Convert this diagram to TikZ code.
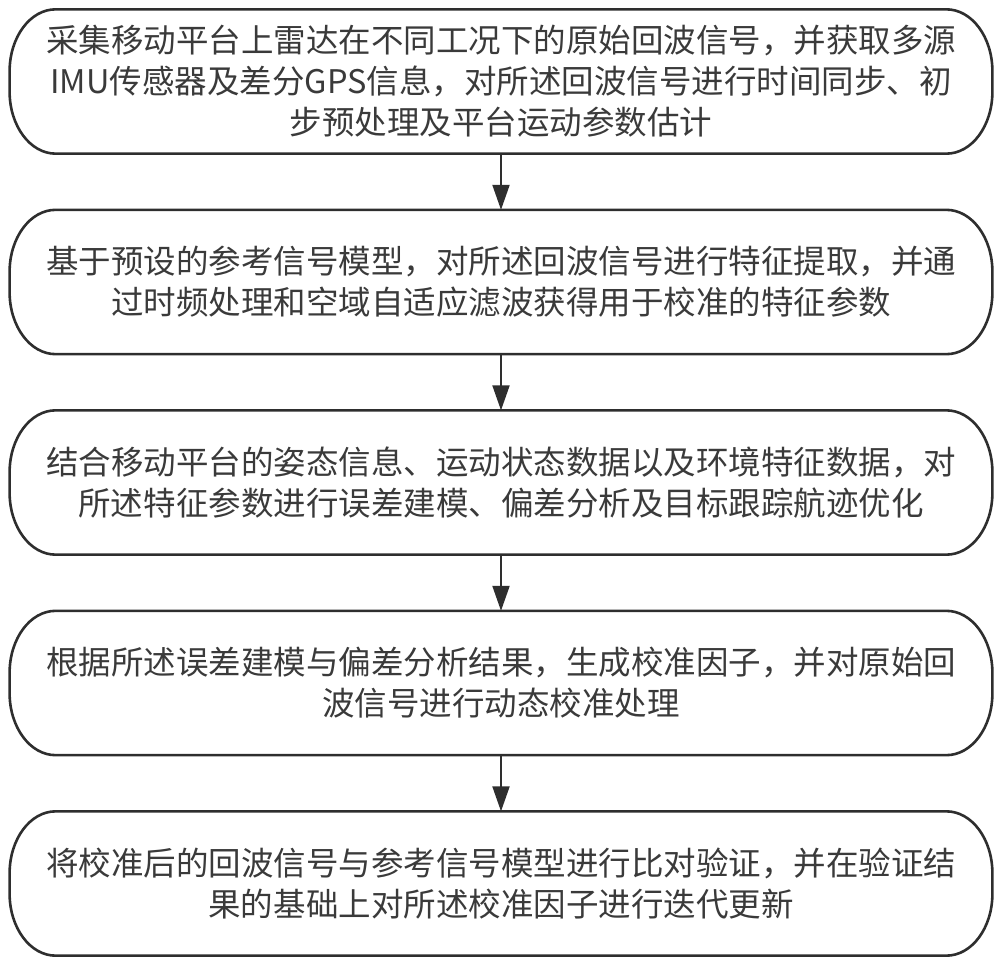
\documentclass[tikz,border=0pt]{standalone}
\usepackage{fontspec}
\setmainfont{Noto Sans CJK SC}
\usetikzlibrary{arrows.meta}
\definecolor{linec}{HTML}{2E2E2E}
\definecolor{textc}{HTML}{3A3A3A}
\newcommand\capsuleborder[1]{%
  \draw[boxline] let \p1=(#1.north west), \p2=(#1.south east) in
    (\x1+23pt,\y1) -- (\x2-23pt,\y1)
    arc[start angle=90, end angle=0, x radius=23pt, y radius=31pt]
    -- (\x2,\y2+31pt)
    arc[start angle=0, end angle=-90, x radius=23pt, y radius=31pt]
    -- (\x1+23pt,\y2)
    arc[start angle=270, end angle=180, x radius=23pt, y radius=31pt]
    -- (\x1,\y1-31pt)
    arc[start angle=180, end angle=90, x radius=23pt, y radius=31pt]
    -- cycle;}
\usetikzlibrary{calc}
\begin{document}
\begin{tikzpicture}[x=0.5pt,y=0.5pt,
  stepbox/.style={draw=none, minimum width=491pt, minimum height=71.75pt,
    inner sep=0pt, align=center, text=textc,
    font=\fontsize{16.25pt}{20.5pt}\selectfont},
  boxline/.style={draw=linec, line width=1.3pt},
  flow/.style={draw=linec, line width=1pt, -{Triangle[length=12.5pt,width=8.5pt]}}]
\useasboundingbox (0,0) rectangle (1000,965);
\node[stepbox] (b1) at (501,883.5) {采集移动平台上雷达在不同工况下的原始回波信号，并获取多源\\IMU传感器及差分GPS信息，对所述回波信号进行时间同步、初\\步预处理及平台运动参数估计};
\node[stepbox] (b2) at (501,683) {基于预设的参考信号模型，对所述回波信号进行特征提取，并通\\过时频处理和空域自适应滤波获得用于校准的特征参数};
\node[stepbox] (b3) at (501,482.5) {结合移动平台的姿态信息、运动状态数据以及环境特征数据，对\\所述特征参数进行误差建模、偏差分析及目标跟踪航迹优化};
\node[stepbox] (b4) at (501,282) {根据所述误差建模与偏差分析结果，生成校准因子，并对原始回\\波信号进行动态校准处理};
\node[stepbox] (b5) at (501,81.5) {将校准后的回波信号与参考信号模型进行比对验证，并在验证结\\果的基础上对所述校准因子进行迭代更新};
\capsuleborder{b1}
\capsuleborder{b2}
\capsuleborder{b3}
\capsuleborder{b4}
\capsuleborder{b5}
\draw[flow] (b1.south) -- (b2.north);
\draw[flow] (b2.south) -- (b3.north);
\draw[flow] (b3.south) -- (b4.north);
\draw[flow] (b4.south) -- (b5.north);
\end{tikzpicture}
\end{document}
